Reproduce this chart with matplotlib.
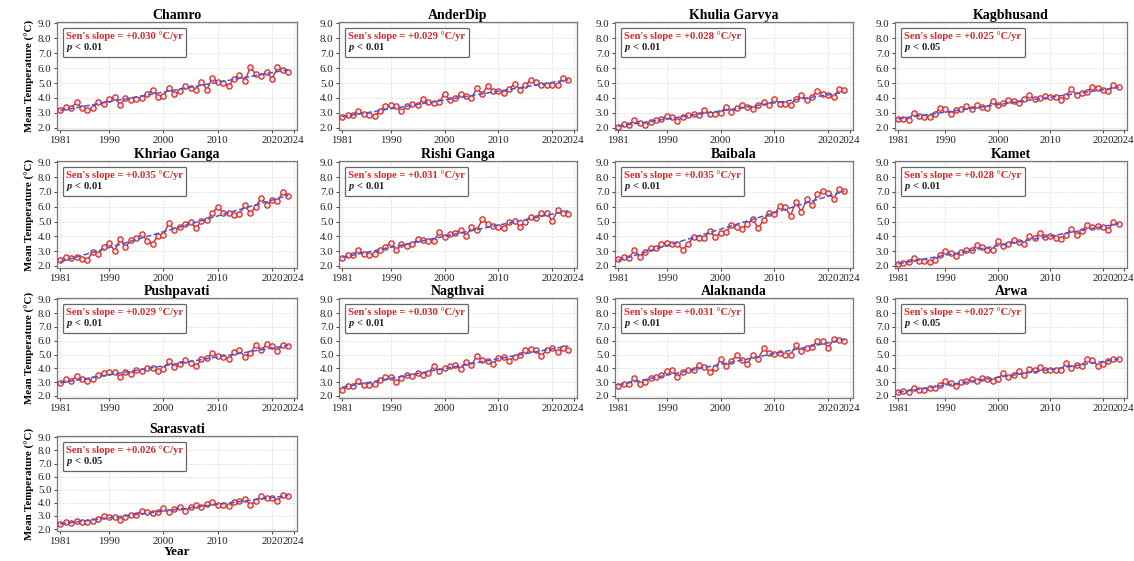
import numpy as np
import matplotlib
matplotlib.use("Agg")
import matplotlib.pyplot as plt
from matplotlib.offsetbox import AnchoredOffsetbox, TextArea, VPacker

plt.rcParams['font.family'] = ['Liberation Serif', 'DejaVu Serif']
plt.rcParams['mathtext.fontset'] = 'custom'
plt.rcParams['mathtext.it'] = 'Liberation Serif:italic:bold'
plt.rcParams['mathtext.rm'] = 'Liberation Serif:bold'

# ---------------- данные ----------------
years = np.arange(1981, 2024)

names = ['Chamro', 'AnderDip', 'Khulia Garvya', 'Kagbhusand',
         'Khriao Ganga', 'Rishi Ganga', 'Baibala', 'Kamet',
         'Pushpavati', 'Nagthvai', 'Alaknanda', 'Arwa',
         'Sarasvati']
slope_labels = ['+0.030', '+0.029', '+0.028', '+0.025',
                '+0.035', '+0.031', '+0.035', '+0.028',
                '+0.029', '+0.030', '+0.031', '+0.027',
                '+0.026']
p_labels = ['< 0.01', '< 0.01', '< 0.01', '< 0.05',
            '< 0.01', '< 0.01', '< 0.01', '< 0.01',
            '< 0.01', '< 0.01', '< 0.01', '< 0.05',
            '< 0.05']

chamro = [3.2, 3.4, 3.35, 3.7, 3.35, 3.2, 3.35, 3.7, 3.6, 3.95,
          4.05, 3.55, 4.0, 3.85, 3.95, 4.0, 4.25, 4.55, 4.05, 4.15,
          4.7, 4.25, 4.5, 4.8, 4.65, 4.55, 5.1, 4.55, 5.35, 5.05,
          5.0, 4.8, 5.3, 5.55, 5.15, 6.05, 5.6, 5.5, 5.75, 5.3,
          6.05, 5.9, 5.75]
anderdip = [2.7, 2.85, 2.85, 3.15, 2.95, 2.85, 2.8, 3.1, 3.45, 3.5,
            3.45, 3.1, 3.45, 3.6, 3.5, 3.9, 3.7, 3.65, 3.7, 4.3,
            3.85, 4.0, 4.25, 4.1, 4.0, 4.65, 4.25, 4.8, 4.5, 4.45,
            4.35, 4.6, 4.95, 4.55, 4.85, 5.2, 5.1, 4.9, 4.85, 4.85,
            4.85, 5.35, 5.2]
khulia = [2.05, 2.25, 2.2, 2.5, 2.35, 2.2, 2.4, 2.55, 2.6, 2.8,
          2.7, 2.45, 2.75, 2.85, 2.9, 2.85, 3.2, 2.95, 2.9, 3.0,
          3.4, 3.05, 3.3, 3.5, 3.4, 3.25, 3.5, 3.75, 3.5, 3.95,
          3.6, 3.6, 3.55, 3.95, 4.2, 3.85, 4.05, 4.5, 4.3, 4.2,
          4.05, 4.6, 4.55]
kagbhusand = [2.6, 2.6, 2.55, 3.0, 2.8, 2.75, 2.75, 2.95, 3.3, 3.25,
              2.95, 3.2, 3.25, 3.45, 3.25, 3.5, 3.4, 3.35, 3.8, 3.5,
              3.65, 3.85, 3.8, 3.65, 3.95, 4.2, 3.95, 4.0, 4.1, 4.05,
              4.05, 3.85, 4.15, 4.6, 4.2, 4.35, 4.4, 4.75, 4.7, 4.55,
              4.45, 4.9, 4.75]
khriao = [2.4, 2.6, 2.55, 2.6, 2.45, 2.4, 2.95, 2.8, 3.3, 3.55,
          3.0, 3.8, 3.25, 3.75, 3.85, 4.15, 3.7, 3.5, 4.05, 4.1,
          4.9, 4.4, 4.65, 4.8, 5.0, 4.55, 5.05, 5.1, 5.55, 6.0,
          5.6, 5.55, 5.45, 5.5, 6.1, 5.55, 6.0, 6.6, 6.15, 6.45,
          6.4, 7.0, 6.75]
rishi = [2.5, 2.75, 2.7, 3.05, 2.8, 2.7, 2.8, 3.1, 3.3, 3.55,
         3.05, 3.45, 3.35, 3.45, 3.8, 3.75, 3.7, 3.65, 4.3, 3.95,
         4.15, 4.2, 4.45, 4.05, 4.6, 4.4, 5.15, 4.85, 4.7, 4.6,
         4.55, 4.95, 5.05, 4.65, 5.0, 5.3, 5.25, 5.55, 5.55, 5.05,
         5.75, 5.6, 5.5]
baibala = [2.45, 2.6, 2.55, 3.05, 2.6, 2.95, 3.2, 3.2, 3.45, 3.55,
           3.5, 3.45, 3.1, 3.5, 3.95, 3.85, 3.9, 4.35, 3.95, 4.25,
           4.3, 4.75, 4.6, 4.5, 4.85, 5.15, 4.55, 5.1, 5.55, 5.5,
           6.05, 5.95, 5.4, 6.35, 5.65, 6.5, 6.1, 6.85, 7.05, 6.95,
           6.55, 7.2, 7.05]
kamet = [2.1, 2.2, 2.25, 2.55, 2.35, 2.3, 2.25, 2.4, 2.75, 3.0,
         2.85, 2.65, 2.95, 3.1, 3.05, 3.4, 3.3, 3.05, 3.1, 3.65,
         3.35, 3.5, 3.75, 3.6, 3.5, 4.05, 3.85, 4.25, 3.95, 4.0,
         3.9, 3.8, 4.1, 4.5, 4.1, 4.35, 4.75, 4.6, 4.7, 4.65,
         4.4, 4.95, 4.8]
pushpavati = [2.95, 3.2, 3.1, 3.45, 3.2, 3.1, 3.2, 3.5, 3.65, 3.7,
              3.75, 3.35, 3.75, 3.6, 3.85, 3.8, 4.05, 4.0, 3.8, 3.95,
              4.5, 4.1, 4.35, 4.6, 4.4, 4.15, 4.65, 4.75, 5.1, 4.9,
              4.85, 4.65, 5.15, 5.3, 4.85, 5.1, 5.7, 5.3, 5.75, 5.65,
              5.25, 5.7, 5.65]
nagthvai = [2.45, 2.7, 2.75, 3.05, 2.8, 2.8, 2.85, 3.15, 3.4, 3.35,
            3.0, 3.3, 3.55, 3.45, 3.65, 3.5, 3.65, 4.15, 3.8, 4.0,
            4.2, 4.25, 3.95, 4.45, 4.25, 4.9, 4.6, 4.55, 4.35, 4.75,
            4.85, 4.55, 4.85, 5.0, 5.3, 5.4, 5.3, 4.9, 5.35, 5.45,
            5.2, 5.5, 5.3]
alaknanda = [2.75, 2.9, 2.85, 3.3, 2.85, 3.0, 3.3, 3.35, 3.5, 3.8,
             3.85, 3.35, 3.7, 3.85, 3.85, 4.25, 4.1, 3.75, 4.0, 4.65,
             4.15, 4.5, 4.95, 4.6, 4.35, 4.95, 4.7, 5.45, 5.1, 5.05,
             5.1, 5.0, 5.0, 5.7, 5.25, 5.5, 5.55, 6.0, 5.95, 5.5,
             6.1, 6.05, 6.0]
arwa = [2.25, 2.35, 2.3, 2.6, 2.45, 2.4, 2.55, 2.6, 2.8, 3.1,
        2.95, 2.75, 3.0, 3.05, 3.2, 3.05, 3.3, 3.25, 3.05, 3.2,
        3.65, 3.35, 3.5, 3.8, 3.5, 3.95, 3.85, 4.1, 3.9, 3.9,
        3.85, 3.85, 4.4, 4.05, 4.25, 4.2, 4.65, 4.6, 4.2, 4.3,
        4.55, 4.7, 4.65]
sarasvati = [2.35, 2.5, 2.45, 2.65, 2.5, 2.5, 2.6, 2.75, 3.0, 2.95,
             2.95, 2.7, 2.95, 3.1, 3.1, 3.4, 3.3, 3.2, 3.3, 3.6,
             3.3, 3.5, 3.7, 3.4, 3.65, 3.85, 3.7, 3.9, 4.05, 3.85,
             3.8, 3.75, 4.1, 4.15, 4.3, 3.85, 4.15, 4.5, 4.4, 4.4,
             4.15, 4.6, 4.55]

series = [chamro, anderdip, khulia, kagbhusand, khriao, rishi, baibala,
          kamet, pushpavati, nagthvai, alaknanda, arwa, sarasvati]
for s in series:
    assert len(s) == len(years)


def sen_trend(x, y):
    """Оценка Тейла-Сена: медиана попарных наклонов"""
    x = np.asarray(x, float)
    y = np.asarray(y, float)
    i, j = np.triu_indices(len(x), 1)
    slope = np.median((y[j] - y[i]) / (x[j] - x[i]))
    icpt = np.median(y - slope * x)
    return slope * x + icpt


# ---------------- раскладка (в пикселях) ----------------
W, H = 1134, 561
fig = plt.figure(figsize=(W / 100, H / 100), dpi=100)

col_x = [(57, 297), (339, 577), (615, 853), (895, 1127)]
row_y = [(22, 130), (161, 268), (298, 398), (436, 531)]

for k, (name, vals) in enumerate(zip(names, series)):
    r, c = divmod(k, 4)
    x0, x1 = col_x[c]
    y0, y1 = row_y[r]
    ax = fig.add_axes([x0 / W, 1 - y1 / H, (x1 - x0) / W, (y1 - y0) / H])

    ax.plot(years, vals, '-', color='#d62728', lw=1.0, marker='o', ms=3.8,
            mfc='#fbe3e3', mec='#d62728', mew=0.9, zorder=3)
    ax.plot(years, sen_trend(years, vals), '--', color='#3b5bdb', lw=1.1,
            zorder=4)

    ax.set_xlim(1980.4, 2024.6)
    ax.set_ylim(1.85, 9.1)
    ax.set_xticks([1981, 1990, 2000, 2010, 2020, 2024])
    ax.set_yticks(np.arange(2, 9.1, 1.0))
    ax.set_yticklabels([f'{v:.1f}' for v in np.arange(2, 9.1, 1.0)])
    ax.tick_params(labelsize=7.8, length=2.5, width=0.6, pad=1.5,
                   colors='#222222')
    ax.grid(True, ls='--', lw=0.5, color='#dddddd', zorder=0)
    for sp in ax.spines.values():
        sp.set_color('#777777')
        sp.set_linewidth(0.9)

    ax.set_title(name, fontsize=10, fontweight='bold', pad=2)
    if c == 0:
        ax.set_ylabel('Mean Temperature (°C)', fontsize=7.8,
                      fontweight='bold', labelpad=2)
    if k == len(names) - 1:
        ax.set_xlabel('Year', fontsize=9.5, fontweight='bold', labelpad=0)

    t1 = TextArea(f"Sen's slope = {slope_labels[k]} °C/yr",
                  textprops=dict(color='#d62728', fontsize=7.6,
                                 fontweight='bold'))
    t2 = TextArea(f"$p$ {p_labels[k]}",
                  textprops=dict(color='#222222', fontsize=7.6,
                                 fontweight='bold'))
    box = VPacker(children=[t1, t2], align='left', pad=0, sep=0)
    anc = AnchoredOffsetbox(loc='upper left', child=box, pad=0.2,
                            borderpad=0.45, frameon=True,
                            bbox_to_anchor=(0.0, 1.0),
                            bbox_transform=ax.transAxes)
    anc.patch.set_boxstyle('round,pad=0.05,rounding_size=0.1')
    anc.patch.set_edgecolor('#666666')
    anc.patch.set_linewidth(0.9)
    anc.patch.set_facecolor('white')
    anc.zorder = 5
    ax.add_artist(anc)

fig.savefig('out.png', dpi=100, facecolor='white')
